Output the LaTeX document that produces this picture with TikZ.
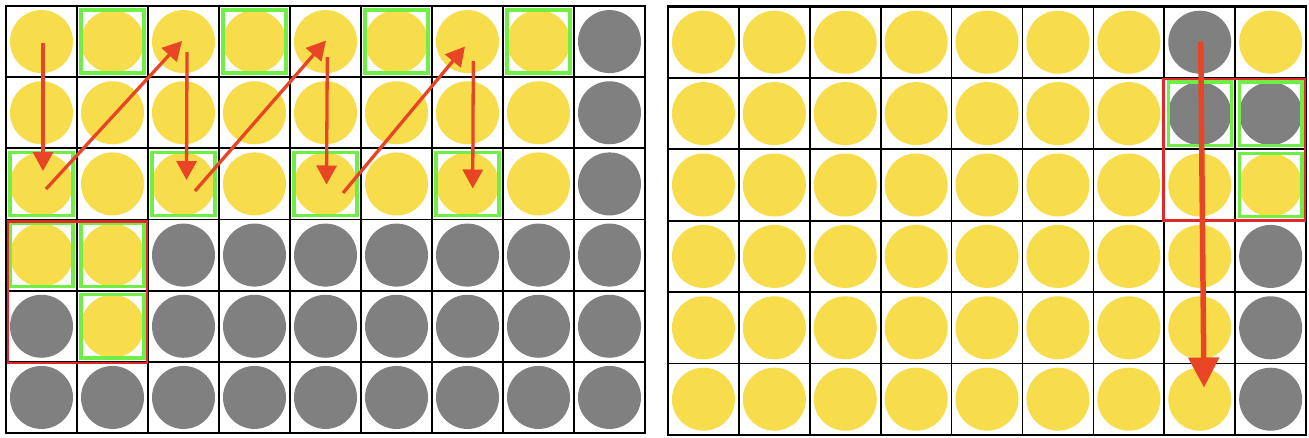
\documentclass[tikz,border=0pt]{standalone}
\usetikzlibrary{arrows.meta}
\definecolor{cyel}{RGB}{247,221,76}
\definecolor{cgray}{RGB}{128,128,128}
\definecolor{cgreen}{RGB}{112,238,72}
\definecolor{cred}{RGB}{232,69,38}
\definecolor{cbox}{RGB}{224,40,40}
\begin{document}
\begin{tikzpicture}[x=1pt,y=-1pt,
  dot/.style={circle,inner sep=0pt,minimum size=63pt,draw=none},
  gridline/.style={black,line width=1.7pt},
  frame/.style={black,line width=2.2pt},
  greenbox/.style={cgreen,line width=3.4pt},
  redbox/.style={cbox,line width=2.5pt},
  arr/.style={cred,line width=3.3pt,-{Triangle[length=19pt,width=20pt]}},
  bigarr/.style={cred,line width=5.5pt,-{Triangle[length=30pt,width=30pt]}}]
\useasboundingbox (0,0) rectangle (1309,437);
\fill[white] (0,0) rectangle (1309,437);

% ---------- left grid ----------
\def\LX{6}\def\LY{6}\def\LW{71}\def\LH{71.17}
\foreach \r in {0,...,5}{
  \foreach \c in {0,...,8}{
    \pgfmathtruncatemacro\g{((\c==8) && (\r<3)) || ((\r>2) && (\c>1)) || ((\r==4) && (\c==0)) || (\r==5)}
    \ifnum\g=1 \def\col{cgray}\else\def\col{cyel}\fi
    \node[dot,fill=\col] (L-\r-\c) at ({\LX+\LW*(\c+0.5)},{\LY+\LH*(\r+0.5)}) {};
  }
}
\foreach \i in {1,...,5}{\draw[gridline] (\LX,{\LY+\LH*\i}) -- ({\LX+9*\LW},{\LY+\LH*\i});}
\foreach \j in {1,...,8}{\draw[gridline] ({\LX+\LW*\j},\LY) -- ({\LX+\LW*\j},{\LY+6*\LH});}
\draw[frame] (\LX,\LY) rectangle ({\LX+9*\LW},{\LY+6*\LH});
\foreach \r/\c in {0/1,0/3,0/5,0/7,2/0,2/2,2/4,2/6,3/0,3/1,4/1}{
  \draw[greenbox] ({\LX+\LW*\c+4},{\LY+\LH*\r+4}) rectangle ({\LX+\LW*(\c+1)-4},{\LY+\LH*(\r+1)-4});
}
\draw[redbox] ({\LX+2},{\LY+3*\LH+2}) rectangle ({\LX+2*\LW-1},{\LY+5*\LH+1});

% arrow end points
\coordinate (a1s) at (43,43);   \coordinate (a1e) at (43,171);
\coordinate (a2s) at (46,189);  \coordinate (a2e) at (182,41);
\coordinate (a3s) at (187,52);  \coordinate (a3e) at (186.5,180);
\coordinate (a4s) at (195,191); \coordinate (a4e) at (326,40.5);
\coordinate (a5s) at (327.3,57);\coordinate (a5e) at (326.5,184.5);
\coordinate (a6s) at (343,193); \coordinate (a6e) at (465,46.5);
\coordinate (a7s) at (473.3,61);\coordinate (a7e) at (472.7,188.5);
\draw[arr] (a1s) -- (a1e);
\draw[arr] (a2s) -- (a2e);
\draw[arr] (a3s) -- (a3e);
\draw[arr] (a4s) -- (a4e);
\draw[arr] (a5s) -- (a5e);
\draw[arr] (a6s) -- (a6e);
\draw[arr] (a7s) -- (a7e);

% ---------- right grid ----------
\def\RX{668}\def\RY{6.5}\def\RW{70.9}\def\RH{71.4}
\foreach \r in {0,...,5}{
  \foreach \c in {0,...,8}{
    \pgfmathtruncatemacro\g{((\c==7) && (\r<2)) || ((\c==8) && (\r==1)) || ((\c==8) && (\r>2))}
    \ifnum\g=1 \def\col{cgray}\else\def\col{cyel}\fi
    \node[dot,fill=\col] (R-\r-\c) at ({\RX+\RW*(\c+0.5)},{\RY+\RH*(\r+0.5)}) {};
  }
}
\foreach \i in {1,...,5}{\draw[gridline] (\RX,{\RY+\RH*\i}) -- ({\RX+9*\RW},{\RY+\RH*\i});}
\foreach \j in {1,...,8}{\draw[gridline] ({\RX+\RW*\j},\RY) -- ({\RX+\RW*\j},{\RY+6*\RH});}
\draw[frame] (\RX,\RY) rectangle ({\RX+9*\RW},{\RY+6*\RH});
\foreach \r/\c in {1/7,1/8,2/8}{
  \draw[greenbox] ({\RX+\RW*\c+4},{\RY+\RH*\r+4}) rectangle ({\RX+\RW*(\c+1)-4},{\RY+\RH*(\r+1)-4});
}
\draw[redbox] ({\RX+7*\RW-1},{\RY+\RH+1}) rectangle ({\RX+9*\RW-1},{\RY+3*\RH});

\coordinate (b1s) at (1200.7,41.5);
\coordinate (b1e) at (1204,387.5);
\draw[bigarr] (b1s) -- (b1e);
\end{tikzpicture}
\end{document}
